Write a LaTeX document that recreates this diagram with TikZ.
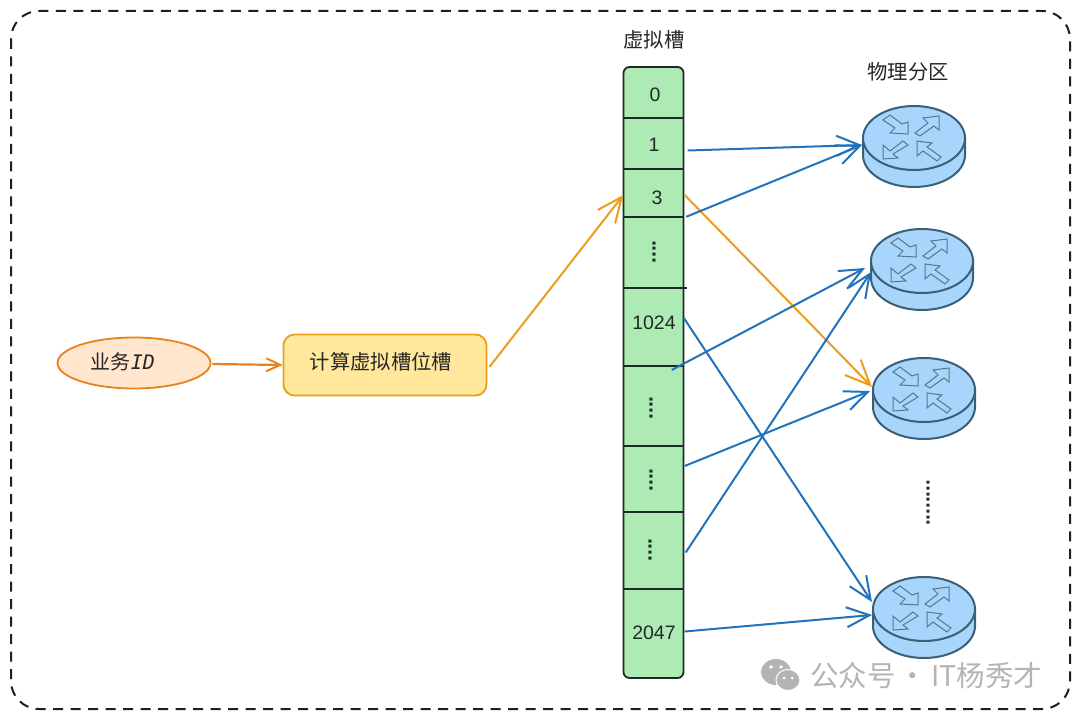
\documentclass[tikz,border=0pt]{standalone}
\usepackage{fontspec}
\usetikzlibrary{arrows.meta,shapes.geometric}
\setmainfont{Liberation Sans}
\newfontfamily\cjk{Noto Sans CJK SC}
\newfontfamily\hand{DejaVu Sans Mono}
\definecolor{slotgreen}{HTML}{AEEBB4}
\definecolor{inkc}{HTML}{1E2A26}
\definecolor{bluea}{HTML}{2272BC}
\definecolor{orangea}{HTML}{EE9C1C}
\definecolor{orangeb}{HTML}{E8821E}
\definecolor{routerfill}{HTML}{A8D5FB}
\definecolor{routerline}{HTML}{3A5F78}
\definecolor{wmgray}{HTML}{B4B4B4}
\definecolor{calcfill}{HTML}{FFE79B}
\definecolor{idfill}{HTML}{FFE6CC}
\tikzset{
  x=1pt,y=-1pt,
  outerframe/.style={draw=black!88,line width=2pt,dash pattern=on 10pt off 7.5pt,rounded corners=28pt},
  txtlabel/.style={inner sep=0pt,font=\cjk\fontsize{20.3}{22}\selectfont,text=black!85},
  slot/.style={minimum width=60pt,inner sep=0pt},
  slottext/.style={inner sep=0pt,font=\fontsize{19.5}{22}\selectfont,text=inkc},
  sep/.style={draw=inkc,line width=1.7pt},
  vdots/.style={inner sep=0pt,rotate=90,font=\bfseries\fontsize{21}{22}\selectfont,text=inkc},
  blueflow/.style={draw=bluea,line width=2pt,-{Straight Barb[length=23pt,width=20pt,line width=2pt]}},
  orangeflow/.style={draw=orangea,line width=2pt,-{Straight Barb[length=25pt,width=22pt,line width=2pt]}},
  routerbody/.style={fill=routerfill,draw=routerline,line width=2pt},
  routerarrow/.style={draw=routerline!85,line width=1pt},
  routertop/.style={ellipse,minimum width=102pt,minimum height=64pt,inner sep=0pt,routerbody},
  router/.pic={
    \path[routerbody] (-51,0) -- (-51,17) arc[start angle=180,end angle=0,x radius=51,y radius=32]
      -- (51,0) -- cycle;
  },
  routerglyphs/.pic={
    \path[routerarrow] (-31,-18) -- (-24,-23) -- (-12,-14) -- (-6,-16) -- (-6,-4) -- (-24,-5) -- (-19,-10) -- cycle;
    \path[routerarrow] (1,-5) -- (14,-15) -- (9,-20) -- (25,-22) -- (25,-8) -- (20,-12) -- (6,-2) -- cycle;
    \path[routerarrow] (-11,3) -- (-24,13) -- (-31,7) -- (-31,21) -- (-16,20) -- (-21,16) -- (-6,7) -- cycle;
    \path[routerarrow] (3,3) -- (18,5) -- (13,9) -- (27,19) -- (23,23) -- (9,13) -- (3,18) -- cycle;
  },
}
\begin{document}
\begin{tikzpicture}
\useasboundingbox (0,0) rectangle (1080,719);
\path[fill=white] (0,0) rectangle (1080,719);
\draw[outerframe] (11,11) rectangle (1070,709);

% slots
\node[draw=inkc,line width=1.8pt,fill=slotgreen,rounded corners=6pt,minimum width=60pt,minimum height=611pt,inner sep=0pt] (col) at (653.5,372.5) {};
\node[slot,minimum height=51pt] (s0) at (653.5,92.5) {};
\node[slot,minimum height=51pt] (s1) at (653.5,143.5) {};
\node[slot,minimum height=48pt] (s3) at (653.5,193) {};
\node[slot,minimum height=71pt,minimum width=64pt] (sa) at (655,252.5) {};
\node[slot,minimum height=78pt] (s1024) at (653.5,327) {};
\node[slot,minimum height=80pt] (sb) at (653.5,406) {};
\node[slot,minimum height=66pt] (sc) at (653.5,479) {};
\node[slot,minimum height=77pt] (sd) at (653.5,550.5) {};
\node[slot,minimum height=89pt] (s2047) at (653.5,633.5) {};
\foreach \n in {s0,s1,s3,sa,s1024,sb,sc,sd}
  \draw[sep] (\n.south west) -- (\n.south east);
\node[slottext] (t0) at (655,95) {0};
\node[slottext] (t1) at (654,145) {1};
\node[slottext] (t3) at (657,198) {3};
\node[slottext] (t1024) at (654,323) {1024};
\node[slottext] (t2047) at (654,633) {2047};
\node[vdots] (da) at (654,252) {....};
\node[vdots] (db) at (651,408) {....};
\node[vdots] (dc) at (651,480) {....};
\node[vdots] (dd) at (650,550) {....};

\node[txtlabel] (ltitle) at (654,40) {虚拟槽};
\node[txtlabel] (rtitle) at (908,72) {物理分区};

% routers
\pic at (914,138) {router};
\node[routertop] (r1) at (914,138) {};
\pic at (914,138) {routerglyphs};
\pic at (922,261) {router};
\node[routertop] (r2) at (922,261) {};
\pic at (922,261) {routerglyphs};
\pic at (924,390) {router};
\node[routertop] (r3) at (924,390) {};
\pic at (924,390) {routerglyphs};
\pic at (924,609) {router};
\node[routertop] (r4) at (924,609) {};
\pic at (924,609) {routerglyphs};

% left
\node[ellipse,draw=orangeb,line width=1.8pt,fill=idfill,minimum width=153pt,minimum height=51pt,inner sep=0pt] (id) at (134,363) {};
\node[inner sep=0pt,font=\cjk\fontsize{20}{22}\selectfont,text=black!85] (idt) at (123,362) {业务{\hand\itshape ID}};
\node[draw=orangea,line width=1.8pt,fill=calcfill,rounded corners=11pt,minimum width=203pt,minimum height=61pt,inner sep=0pt] (calc) at (385,365) {};
\node[txtlabel] (calct) at (381,362) {计算虚拟槽位槽};

% watermark
\path[fill=wmgray] (776,672) ellipse[x radius=15,y radius=13];
\path[fill=wmgray,draw=white,line width=1pt] (788,680) ellipse[x radius=12,y radius=10.5];
\fill[white] (771,667) circle (1.8) (781,667) circle (1.8) (784,678) circle (1.5) (792,678) circle (1.5);
\node[inner sep=0pt,anchor=west,font=\cjk\fontsize{28.5}{30}\selectfont,text=wmgray] (wm) at (810,676) {公众号\hspace{3pt}·\hspace{4pt}IT杨秀才};

% connectors
\draw[draw=orangeb,line width=2.2pt,-{Straight Barb[length=14pt,width=13pt,line width=2pt]}] ([shift={(1,1)}]id.east) -- (calc.west);
\draw[orangeflow] ([shift={(2,2)}]calc.east) -- ([shift={(0,2)}]s3.west);
\draw[orangeflow] ([shift={(1,2)}]s3.east) -- ([shift={(0,-3)}]r3.west);
\draw[blueflow] ([shift={(4,7)}]s1.east) -- ([shift={(0,7)}]r1.west);
\draw[blueflow] ([shift={(-1,0)}]sa.north east) -- ([shift={(0,7)}]r1.west);
\draw[blueflow] ([shift={(-12,43)}]s1024.east) -- ([shift={(-5,7)}]r2.west);
\draw[blueflow] ([shift={(1,-13)}]sc.east) -- ([shift={(-2,1)}]r3.west);
\draw[blueflow] ([shift={(2,2)}]sd.east) -- ([shift={(1,11)}]r2.west);
\draw[blueflow] ([shift={(0,30)}]s1024.north east) -- ([shift={(0,-7)}]r4.west);
\draw[blueflow] ([shift={(1,-2)}]s2047.east) -- ([shift={(0,6)}]r4.west);

\node[inner sep=0pt,rotate=90,font=\bfseries\fontsize{20.5}{22}\selectfont,text=inkc] (dots) at (928,503) {........};
\end{tikzpicture}
\end{document}
